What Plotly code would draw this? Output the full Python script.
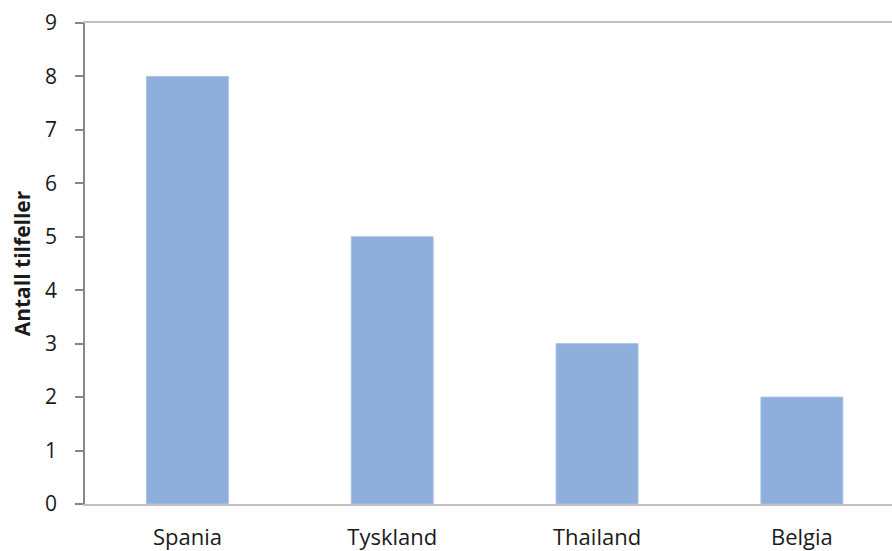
import plotly.graph_objects as go

countries = ["Spania", "Tyskland", "Thailand", "Belgia"]
cases = [8, 5, 3, 2]
y_ticks = list(range(0, 10))

fig = go.Figure(
    go.Bar(
        x=countries,
        y=cases,
        marker=dict(color="#8eafdb", line=dict(color="#a9c2e6", width=1)),
        width=0.4,
        hoverinfo="x+y",
    )
)

fig.update_layout(
    width=892,
    height=551,
    margin=dict(l=84.5, r=0, t=22.5, b=47),
    plot_bgcolor="white",
    paper_bgcolor="white",
    font=dict(family="Open Sans", color="#1a1a1a"),
    showlegend=False,
)

fig.update_xaxes(
    range=[-0.5, 3.44],
    showline=True,
    linecolor="#c0c0c0",
    linewidth=1.5,
    mirror=True,
    showgrid=False,
    ticks="",
    tickfont=dict(size=22),
    ticklabelstandoff=13,
)

fig.update_yaxes(
    range=[0, 9],
    tickvals=y_ticks,
    showline=True,
    linecolor="#868686",
    linewidth=1.5,
    showgrid=False,
    zeroline=False,
    ticks="outside",
    ticklen=8,
    tickcolor="#868686",
    tickwidth=1.5,
    tickfont=dict(size=21),
    ticklabelstandoff=14,
    title=dict(text="<b>Antall tilfeller</b>", font=dict(size=21), standoff=9),
)

fig.write_html("out.html")
